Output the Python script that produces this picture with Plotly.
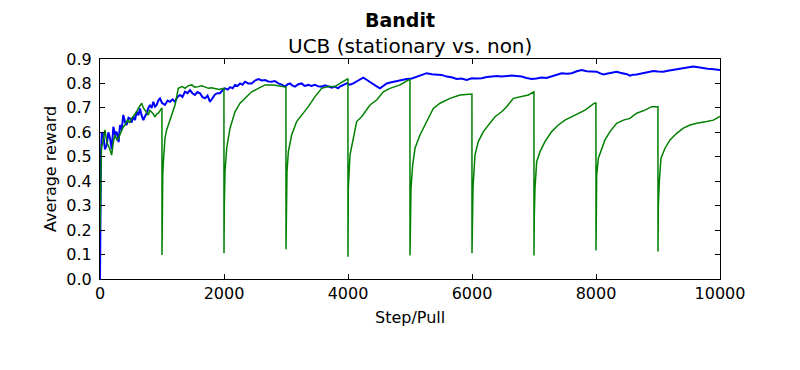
import plotly.graph_objects as go

# ---- data ----
blue_steps = [0, 5, 16, 30, 54, 80, 108, 135, 161, 190, 215, 245, 269, 300, 323, 350, 376, 405, 430, 460,
              484, 510, 538, 565, 591, 620, 645, 670, 699, 725, 753, 780, 806, 833, 860, 887, 914, 940, 968,
              1000, 1048, 1090, 1129, 1170, 1210, 1250, 1290, 1330, 1371, 1410, 1452, 1490, 1532, 1570, 1613,
              1650, 1694, 1735, 1774, 1815, 1855, 1895, 1935, 1970, 2016, 2060, 2100, 2140, 2177, 2220, 2260,
              2300, 2339, 2390, 2446, 2500, 2554, 2610, 2661, 2715, 2769, 2820, 2876, 2930, 2984, 3030, 3065,
              3100, 3145, 3200, 3253, 3300, 3360, 3410, 3468, 3520, 3575, 3630, 3683, 3740, 3790, 3840, 3871,
              3925, 3978, 4030, 4086, 4150, 4200, 4247, 4300, 4355, 4400, 4450, 4516, 4570, 4624, 4700, 4785,
              4860, 4946, 5030, 5108, 5190, 5269, 5350, 5430, 5510, 5591, 5670, 5753, 5830, 5914, 5995, 6080,
              6156, 6240, 6317, 6400, 6478, 6560, 6640, 6720, 6801, 6880, 6962, 7040, 7124, 7200, 7285, 7370,
              7446, 7530, 7608, 7690, 7769, 7850, 7930, 8011, 8060, 8118, 8170, 8226, 8280, 8333, 8390, 8441,
              8500, 8548, 8600, 8656, 8710, 8763, 8840, 8925, 9000, 9086, 9160, 9247, 9330, 9409, 9490, 9570,
              9650, 9731, 9800, 9866, 9930, 10000]
blue_reward = [0.0, 0.3, 0.52, 0.6, 0.589, 0.53, 0.548, 0.6, 0.576, 0.53, 0.623, 0.59, 0.603, 0.56, 0.63, 0.61,
               0.671, 0.64, 0.63, 0.66, 0.657, 0.64, 0.664, 0.65, 0.684, 0.67, 0.698, 0.67, 0.65, 0.665, 0.678,
               0.7, 0.712, 0.7, 0.725, 0.705, 0.712, 0.73, 0.739, 0.72, 0.712, 0.73, 0.725, 0.735, 0.725, 0.745,
               0.753, 0.745, 0.766, 0.76, 0.773, 0.76, 0.753, 0.765, 0.76, 0.745, 0.739, 0.75, 0.725, 0.74, 0.755,
               0.76, 0.76, 0.77, 0.78, 0.775, 0.785, 0.78, 0.794, 0.79, 0.8, 0.795, 0.807, 0.8, 0.8, 0.812, 0.818,
               0.812, 0.814, 0.808, 0.807, 0.81, 0.8, 0.795, 0.787, 0.797, 0.8, 0.792, 0.787, 0.797, 0.8, 0.79,
               0.794, 0.79, 0.794, 0.788, 0.787, 0.792, 0.787, 0.783, 0.787, 0.78, 0.787, 0.794, 0.8, 0.795, 0.8,
               0.81, 0.818, 0.824, 0.815, 0.807, 0.8, 0.79, 0.78, 0.79, 0.8, 0.805, 0.81, 0.812, 0.818, 0.82,
               0.828, 0.835, 0.842, 0.838, 0.837, 0.835, 0.828, 0.825, 0.818, 0.82, 0.814, 0.821, 0.82, 0.821,
               0.826, 0.828, 0.83, 0.828, 0.83, 0.832, 0.83, 0.828, 0.822, 0.818, 0.82, 0.824, 0.822, 0.828,
               0.835, 0.842, 0.84, 0.842, 0.85, 0.855, 0.85, 0.848, 0.848, 0.842, 0.837, 0.84, 0.842, 0.845,
               0.848, 0.844, 0.842, 0.838, 0.832, 0.836, 0.837, 0.84, 0.842, 0.846, 0.851, 0.849, 0.848, 0.852,
               0.855, 0.858, 0.862, 0.865, 0.869, 0.866, 0.862, 0.86, 0.859, 0.857, 0.855]

green_steps = [0, 10, 25, 37, 60, 80, 110, 134, 160, 188, 215, 242, 270, 296, 330, 370, 403, 440, 480, 511, 550,
               580, 618, 645, 672, 700, 726, 755, 780, 805, 833, 860, 887, 915, 941, 970, 999,
               1000, 1005, 1012, 1022, 1048, 1075, 1102, 1156, 1210, 1240, 1263, 1300, 1328, 1371, 1420, 1478,
               1530, 1586, 1640, 1700, 1747, 1800, 1855, 1920, 1999,
               2000, 2005, 2016, 2043, 2097, 2177, 2258, 2339, 2446, 2554, 2661, 2796, 2930, 2999,
               3000, 3005, 3016, 3038, 3091, 3172, 3253, 3360, 3468, 3575, 3683, 3790, 3871, 3952, 3999,
               4000, 4003, 4005, 4032, 4086, 4140, 4220, 4355, 4462, 4570, 4677, 4839, 4973, 4999,
               5000, 5004, 5016, 5043, 5081, 5161, 5269, 5376, 5484, 5645, 5806, 5957, 5999,
               6000, 6004, 6016, 6048, 6102, 6183, 6263, 6371, 6478, 6559, 6667, 6801, 6909, 6999,
               7000, 7004, 7016, 7043, 7097, 7177, 7285, 7392, 7500, 7661, 7823, 7973, 7999,
               8000, 8004, 8011, 8038, 8091, 8145, 8226, 8333, 8441, 8548, 8656, 8790, 8898, 8999,
               9000, 9005, 9021, 9048, 9113, 9194, 9301, 9409, 9516, 9624, 9785, 9892, 10000]
green_reward = [0.2, 0.45, 0.55, 0.548, 0.59, 0.61, 0.56, 0.548, 0.53, 0.507, 0.56, 0.589, 0.57, 0.576, 0.6, 0.62,
                0.63, 0.65, 0.64, 0.657, 0.67, 0.68, 0.698, 0.71, 0.719, 0.7, 0.691, 0.68, 0.671, 0.69, 0.684,
                0.675, 0.664, 0.675, 0.678, 0.69, 0.7,
                0.098, 0.3, 0.42, 0.48, 0.576, 0.61, 0.63, 0.671, 0.712, 0.75, 0.78, 0.785, 0.787, 0.78, 0.79,
                0.794, 0.785, 0.787, 0.79, 0.785, 0.78, 0.782, 0.78, 0.775, 0.78,
                0.105, 0.3, 0.439, 0.535, 0.617, 0.684, 0.719, 0.739, 0.766, 0.78, 0.794, 0.794, 0.787, 0.785,
                0.122, 0.3, 0.439, 0.521, 0.589, 0.644, 0.671, 0.705, 0.746, 0.78, 0.787, 0.787, 0.8, 0.814, 0.82,
                0.091, 0.25, 0.372, 0.507, 0.577, 0.644, 0.664, 0.712, 0.732, 0.766, 0.78, 0.794, 0.814, 0.815,
                0.096, 0.25, 0.371, 0.466, 0.535, 0.589, 0.644, 0.698, 0.719, 0.739, 0.753, 0.757, 0.757,
                0.105, 0.25, 0.371, 0.507, 0.562, 0.603, 0.63, 0.664, 0.684, 0.705, 0.739, 0.746, 0.753, 0.766,
                0.096, 0.25, 0.371, 0.48, 0.521, 0.562, 0.603, 0.63, 0.65, 0.671, 0.691, 0.719, 0.72,
                0.117, 0.3, 0.425, 0.494, 0.535, 0.569, 0.603, 0.637, 0.65, 0.657, 0.678, 0.691, 0.705, 0.705,
                0.112, 0.3, 0.398, 0.494, 0.535, 0.569, 0.596, 0.617, 0.63, 0.637, 0.644, 0.65, 0.665]

x_ticks = [0, 2000, 4000, 6000, 8000, 10000]
y_ticks = [0.0, 0.1, 0.2, 0.3, 0.4, 0.5, 0.6, 0.7, 0.8, 0.9]

FONT = "DejaVu Sans"

fig = go.Figure()
fig.add_trace(go.Scatter(x=blue_steps, y=blue_reward, mode="lines",
                         line=dict(color="#0000ff", width=2), name="stationary"))
fig.add_trace(go.Scatter(x=green_steps, y=green_reward, mode="lines",
                         line=dict(color="#008000", width=1.5), name="non-stationary"))

axis_common = dict(showline=True, linecolor="black", linewidth=1, mirror="ticks",
                   ticks="inside", ticklen=5, tickcolor="black", showgrid=False, zeroline=False,
                   tickfont=dict(family=FONT, size=16, color="black"))

fig.update_xaxes(range=[0, 10000], tickvals=x_ticks, ticktext=[str(v) for v in x_ticks], **axis_common)
fig.update_yaxes(range=[0, 0.9], tickvals=y_ticks, ticktext=[f"{v:.1f}" for v in y_ticks],
                 ticklabelstandoff=4, **axis_common)

# the page body has an 8px default margin, so the figure is offset by 8px
fig.update_layout(
    width=792, height=362,
    margin=dict(l=92, r=80, t=51, b=91),
    paper_bgcolor="white", plot_bgcolor="white",
    showlegend=False,
    font=dict(family=FONT, color="black"),
    annotations=[
        dict(text="<b>Bandit</b>", x=(400 - 100) / 620, y=(279 - 20) / 220, xref="paper", yref="paper",
             xanchor="center", yanchor="middle", showarrow=False, font=dict(family=FONT, size=19, color="black")),
        dict(text="UCB (stationary vs. non)", x=0.5, y=(279 - 46) / 220, xref="paper", yref="paper",
             xanchor="center", yanchor="middle", showarrow=False, font=dict(family=FONT, size=20, color="black")),
        dict(text="Step/Pull", x=0.5, y=(279 - 317) / 220, xref="paper", yref="paper",
             xanchor="center", yanchor="middle", showarrow=False, font=dict(family=FONT, size=16, color="black")),
        dict(text="Average reward", x=(50 - 100) / 620, y=0.5, xref="paper", yref="paper", textangle=-90,
             xanchor="center", yanchor="middle", showarrow=False, font=dict(family=FONT, size=16, color="black")),
    ],
)

fig.write_html("out.html")
